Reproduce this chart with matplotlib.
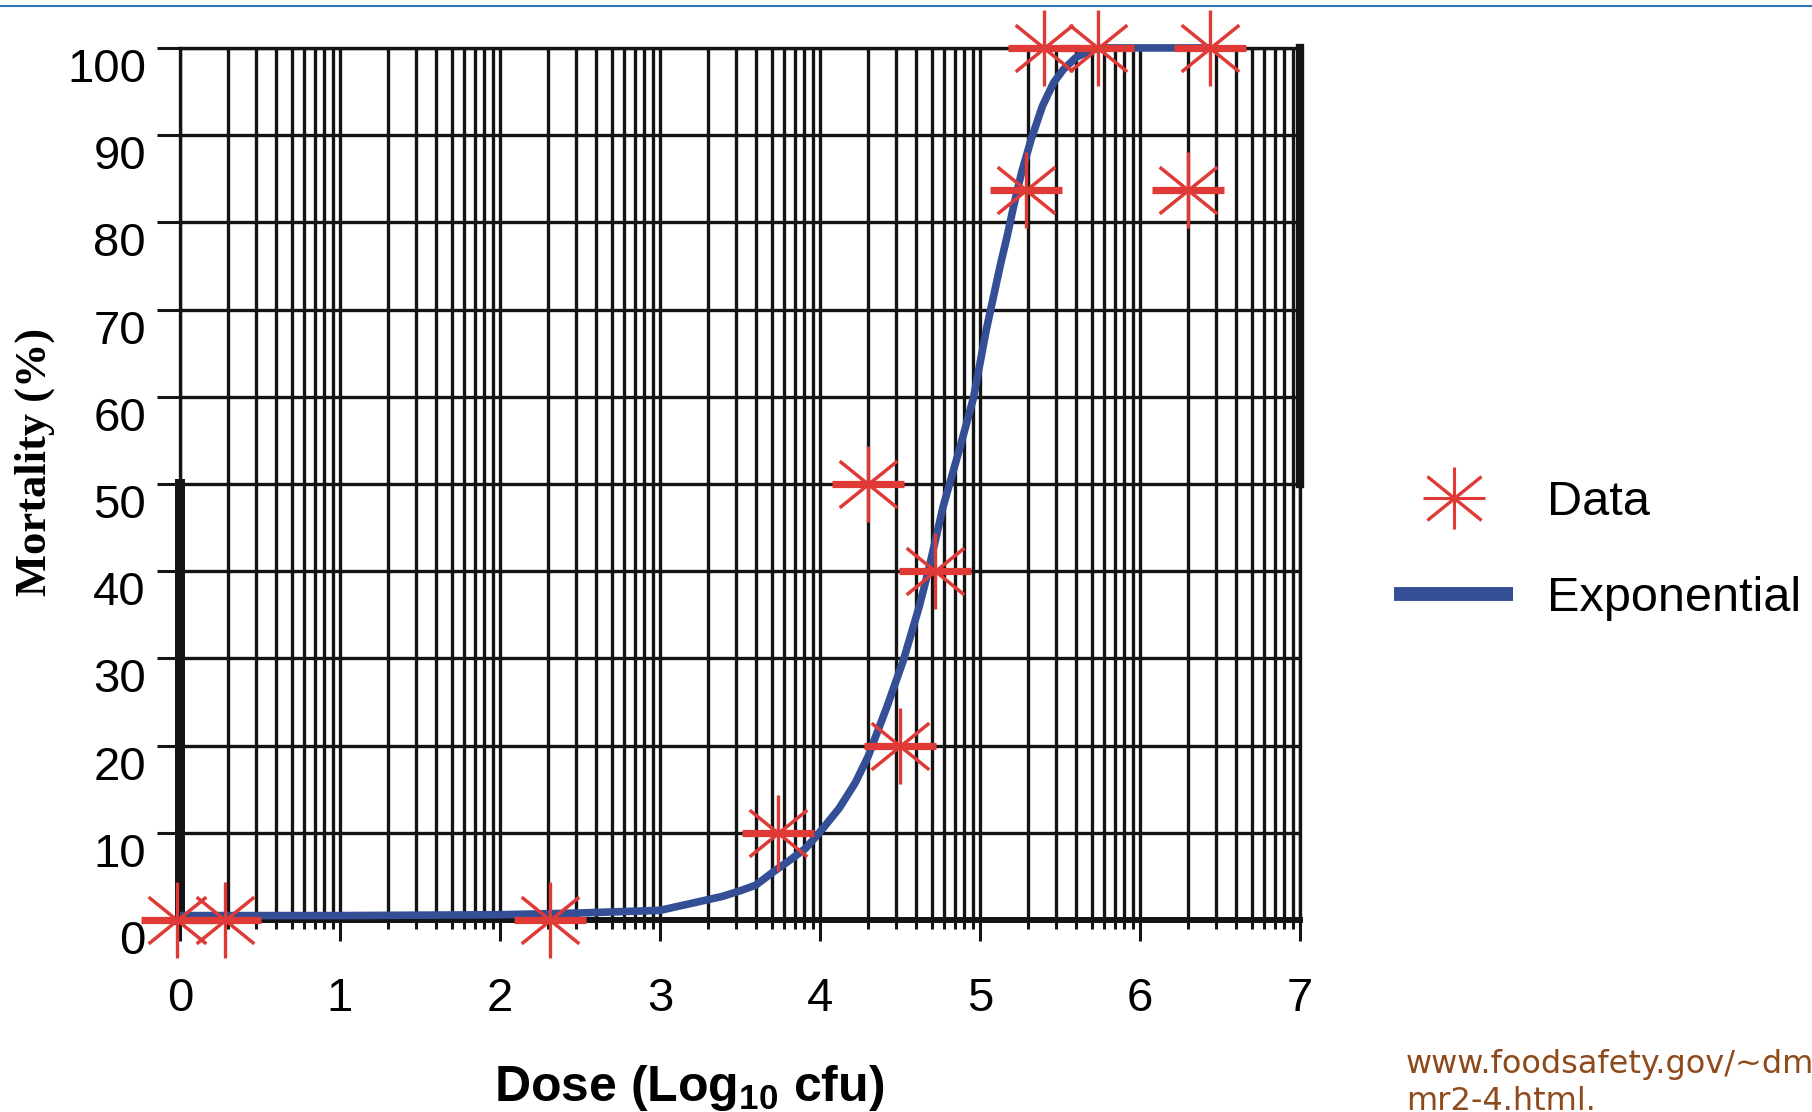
import numpy as np
import matplotlib
matplotlib.use('Agg')
import matplotlib.pyplot as plt
from matplotlib.lines import Line2D
from matplotlib.path import Path
from matplotlib.ticker import FixedLocator, LogLocator, NullFormatter
from matplotlib.transforms import ScaledTranslation

plt.rcParams['font.family'] = ['Liberation Sans', 'DejaVu Sans']

# 数据点 (log10 剂量, 死亡率 %)
data_logdose = [-0.02, 0.28, 2.31, 3.74, 4.30, 4.50, 4.72, 5.29, 5.40, 5.74, 6.30, 6.44]
data_mortality = [0, 0, 0, 10, 50, 20, 40, 83.7, 100, 100, 83.7, 100]

# 指数模型曲线
curve_logdose = [0.0, 1.0, 2.0, 2.5, 3.0, 3.22, 3.39, 3.51, 3.60, 3.70, 3.80, 3.91,
                 4.01, 4.12, 4.22, 4.30, 4.42, 4.52, 4.62, 4.68, 4.77, 4.88, 4.96,
                 5.04, 5.13, 5.17, 5.21, 5.26, 5.32, 5.39, 5.46, 5.52, 5.60, 5.70,
                 5.78, 6.44]
curve_mortality = [0.5, 0.5, 0.6, 0.8, 1.1, 2.0, 2.7, 3.4, 4.0, 5.4, 6.7, 8.2,
                   10.3, 12.8, 15.7, 18.7, 24.5, 29.7, 35.9, 40.2, 47.4, 54.5, 59.9,
                   67.7, 75.3, 78.4, 81.8, 85.7, 89.5, 93.3, 96.0, 97.5, 98.9, 99.8,
                   100, 100]

x_ticks = [0, 1, 2, 3, 4, 5, 6, 7]
y_ticks = [0, 10, 20, 30, 40, 50, 60, 70, 80, 90, 100]

red = '#E03A36'
blue = '#344F96'
black = '#141414'

fig = plt.figure(figsize=(18.12, 11.12), dpi=100)
ax = fig.add_axes([0.0993, 0.1727, 0.6181, 0.7842])

ax.set_xscale('log')
ax.set_xlim(10.0 ** x_ticks[0], 10.0 ** x_ticks[-1])
ax.set_ylim(y_ticks[0], y_ticks[-1])

# 曲线
ax.plot(np.power(10.0, curve_logdose), curve_mortality, color=blue, lw=5.5,
        solid_capstyle='butt', solid_joinstyle='round', zorder=3, clip_on=False)

# 星形标记: 横线 + 竖线 + 斜线
diag = Path([(-1, -0.81), (1, 0.81), (-1, 0.81), (1, -0.81)],
            [Path.MOVETO, Path.LINETO, Path.MOVETO, Path.LINETO])
xd = np.power(10.0, data_logdose)
ax.plot(xd, data_mortality, ls='none', marker='_', ms=52, mew=5.2, color=red,
        zorder=4, clip_on=False)
ax.plot(xd, data_mortality, ls='none', marker='|', ms=55, mew=2.4, color=red,
        zorder=4, clip_on=False)
ax.plot(xd, data_mortality, ls='none', marker=diag, ms=41.5, mew=2.5, color=red,
        zorder=4, clip_on=False)

# 网格和刻度
ax.xaxis.set_major_locator(FixedLocator(np.power(10.0, x_ticks)))
ax.xaxis.set_minor_locator(LogLocator(base=10, subs=range(2, 10), numticks=30))
ax.xaxis.set_minor_formatter(NullFormatter())
ax.set_xticklabels([str(t) for t in x_ticks])
ax.set_yticks(y_ticks)
ax.set_yticklabels([str(t) for t in y_ticks])
plt.setp(ax.get_yticklabels(), va='top')
shift = ScaledTranslation(5 / 100, 0, fig.dpi_scale_trans)
for lab in ax.get_xticklabels():
    lab.set_transform(lab.get_transform() + shift)

ax.set_axisbelow(True)
ax.grid(True, which='both', axis='x', color=black, lw=2.4)
ax.grid(True, which='major', axis='y', color=black, lw=2.4)

ax.tick_params(axis='x', which='major', length=15, width=2.2, direction='out',
               pad=26, labelsize=34, color=black)
ax.tick_params(axis='x', which='minor', length=6.5, width=2.2, direction='out',
               color=black)
ax.tick_params(axis='y', length=16.5, width=2.2, pad=8, labelsize=34, color=black)

for s in ['top', 'left', 'right']:
    ax.spines[s].set_linewidth(2.4)
    ax.spines[s].set_color(black)
ax.spines['bottom'].set_linewidth(4.3)
ax.spines['bottom'].set_color(black)
ax.axvline(10.0 ** x_ticks[0], 0, 0.5, color=black, lw=7.2, zorder=2.6, clip_on=False)
ax.axvline(10.0 ** x_ticks[-1], 0.5, 1, color=black, lw=6, zorder=2.6, clip_on=False)

ax.set_xlabel('Dose (Log$_{\\mathregular{10}}$ cfu)', fontsize=36, fontweight='bold')
ax.xaxis.set_label_coords(0.455, -0.164)
ax.set_ylabel('Mortality (%)', fontsize=32, fontweight='bold',
              family='Liberation Serif')
ax.yaxis.set_label_coords(-0.1116, 0.525)

# 图例
leg_h = Line2D([], [], ls='none', marker='_', ms=44, mew=2.2, color=red)
leg_v = Line2D([], [], ls='none', marker='|', ms=44, mew=2.2, color=red)
leg_d = Line2D([], [], ls='none', marker=diag, ms=39, mew=2.4, color=red)
leg_line = Line2D([], [], color=blue, lw=10, solid_capstyle='butt')
ax.legend([(leg_h, leg_v, leg_d), leg_line], ['Data', 'Exponential'],
          loc='upper left', bbox_to_anchor=(0.7693, 0.568),
          bbox_transform=fig.transFigure, frameon=False, fontsize=35,
          handlelength=2.45, handletextpad=0.7, labelspacing=1.05,
          borderpad=0, borderaxespad=0)

# 页面装饰
fig.add_artist(Line2D([0, 1], [0.9946, 0.9946], transform=fig.transFigure,
                      color='#2A78B8', lw=1.5))
fig.text(1406 / 1812, 1 - 1073 / 1112, 'www.foodsafety.gov/~dm', color='#8F4A1B',
         fontsize=23, family='DejaVu Sans', va='baseline')
fig.text(1406 / 1812, 1 - 1110 / 1112, 'mr2-4.html.', color='#8F4A1B',
         fontsize=23, family='DejaVu Sans', va='baseline')

fig.savefig('out.png', dpi=100)
